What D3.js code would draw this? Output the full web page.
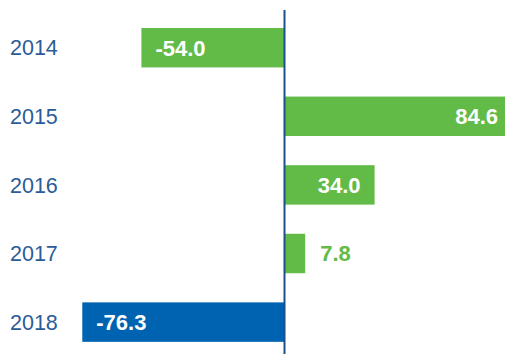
<!DOCTYPE html>
<html>
<head>
<meta charset="utf-8">
<script src="https://cdn.jsdelivr.net/npm/d3@7"></script>
<style>
  html, body { margin: 0; padding: 0; background: #fff; overflow: hidden; }
  svg { display: block; font-family: Arial, "Liberation Sans", sans-serif; }
</style>
</head>
<body>
<div id="chart"></div>
<script>
// chart data
const years = ['2014', '2015', '2016', '2017', '2018'];
const values = [-54.0, 84.6, 34.0, 7.8, -76.3];
const barColors = ['#62bb47', '#62bb47', '#62bb47', '#62bb47', '#0063b1'];

const width = 505;
const height = 354;

const svg = d3
  .select('#chart')
  .append('svg')
  .attr('width', width)
  .attr('height', height);

// band scale for the years, linear for the values (zero sits at ~284.5px)
const y = d3
  .scaleBand()
  .domain(years)
  .range([13.4, 356.4])
  .paddingInner(0.425)
  .paddingOuter(0.2125);

const x = d3
  .scaleLinear()
  .domain([-100, 100])
  .range([19.5, 549.5]);

const rows = years.map((yr, i) => ({ year: yr, value: values[i], color: barColors[i] }));

// bars
svg
  .selectAll('.bar')
  .data(rows)
  .enter()
  .append('rect')
  .attr('class', 'bar')
  .attr('x', d => x(Math.min(0, d.value)))
  .attr('y', d => y(d.year))
  .attr('width', d => Math.abs(x(d.value) - x(0)))
  .attr('height', y.bandwidth())
  .attr('fill', d => d.color);

// zero line
svg
  .append('line')
  .attr('x1', x(0))
  .attr('x2', x(0))
  .attr('y1', 10)
  .attr('y2', height)
  .attr('stroke', '#1c4f8c')
  .attr('stroke-width', 2);

// year labels on the left
const yAxis = svg
  .append('g')
  .attr('transform', 'translate(10,0)')
  .call(d3.axisLeft(y).tickSize(0).tickPadding(0));
yAxis.select('.domain').remove();
yAxis
  .selectAll('text')
  .attr('text-anchor', 'start')
  .attr('dy', '0.36em')
  .attr('fill', '#2b5c98')
  .style('font-size', '21.5px')
  .style('font-family', 'Arial, "Liberation Sans", sans-serif');

// value labels: inside the bar at the far end, or outside when the bar is short
const inside = d => Math.abs(x(d.value) - x(0)) > 60;
svg
  .selectAll('.val')
  .data(rows)
  .enter()
  .append('text')
  .attr('class', 'val')
  .text(d => d.value.toFixed(1))
  .attr('x', d => {
    const end = x(d.value);
    if (inside(d)) return d.value < 0 ? end + 14 : Math.min(end, width) - 7 - (d.value > 80 ? 0 : 7);
    return end + 15;
  })
  .attr('y', d => y(d.year) + y.bandwidth() / 2)
  .attr('dy', '0.36em')
  .attr('text-anchor', d => (inside(d) && d.value > 0 ? 'end' : 'start'))
  .attr('fill', d => (inside(d) ? '#fff' : d.color))
  .style('font-weight', 'bold')
  .style('font-size', '22px');
</script>
</body>
</html>
